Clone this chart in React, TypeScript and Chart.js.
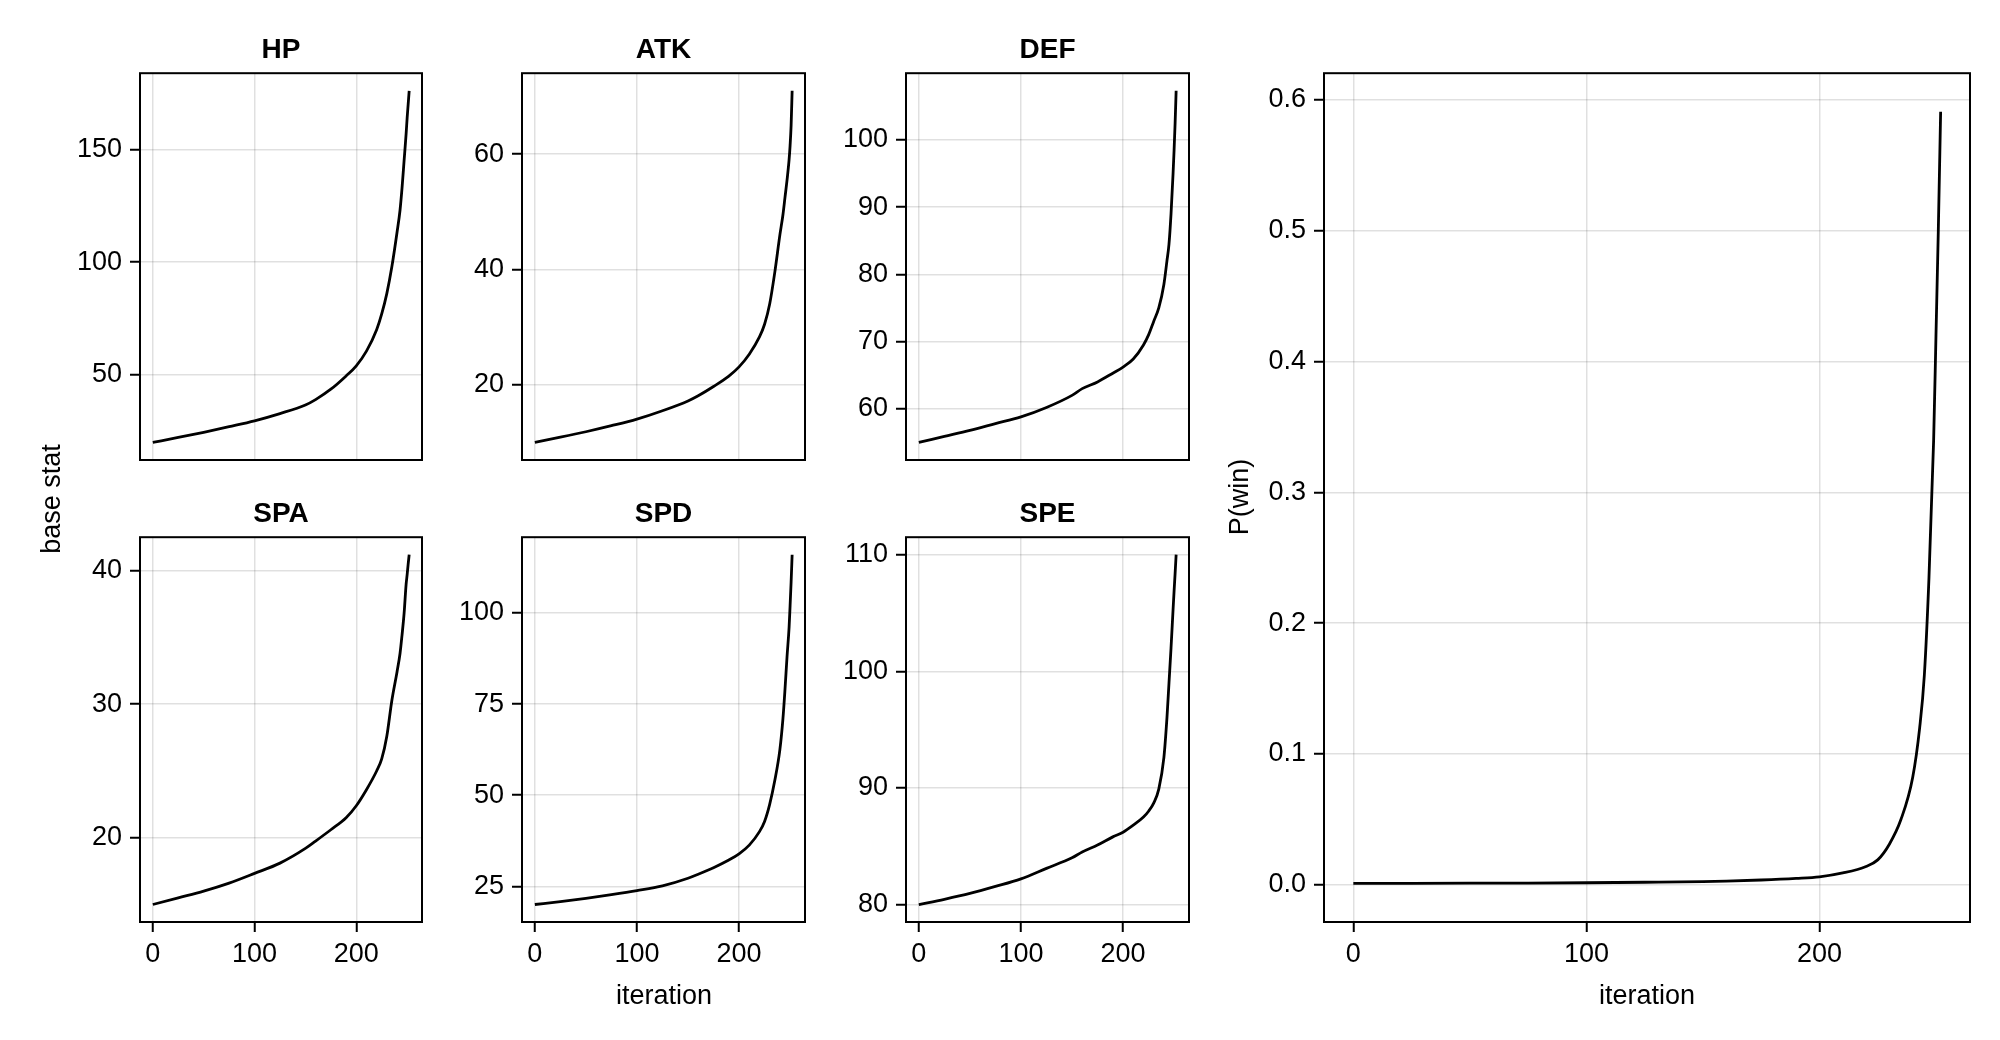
import React, { useRef, useEffect } from 'react';
import { Chart, registerables } from 'chart.js';

Chart.register(...registerables);

const iterations = [0, 25, 50, 75, 100, 125, 150, 160, 175, 190, 200, 210, 220, 225, 230, 235, 240, 243, 245, 247, 249, 250, 251, 252];

const hp = [20, 22.2, 24.5, 27, 29.6, 32.8, 36.6, 39, 43.6, 49.5, 54, 60.5, 70, 77, 86, 98, 113, 123, 133, 145, 157, 164, 170, 176];
const atk = [10, 10.9, 11.85, 12.9, 14.05, 15.5, 17.2, 18.1, 19.7, 21.5, 23.1, 25.3, 28.3, 30.5, 34, 39.5, 46, 49.5, 52.5, 55.5, 59, 61.5, 65, 71];
const def = [55, 55.9, 56.8, 57.8, 58.8, 60.2, 62, 63, 64, 65.3, 66.2, 67.4, 69.5, 71, 73, 75, 78.5, 82, 84.5, 89, 95, 98.5, 102.5, 107.3];
const spa = [15, 15.5, 16, 16.6, 17.33, 18.1, 19.2, 19.75, 20.6, 21.5, 22.4, 23.6, 25, 25.9, 27.6, 30.3, 32.4, 33.8, 35.2, 36.8, 39, 39.7, 40.5, 41.2];
const spd = [20, 20.8, 21.7, 22.7, 23.8, 25.1, 27.2, 28.3, 30.1, 32.2, 33.9, 36.3, 40, 42.8, 47.5, 54, 62.5, 71, 79, 88, 96, 102, 108.5, 116];
const spe = [80, 80.45, 80.95, 81.55, 82.2, 83.1, 84, 84.5, 85.1, 85.8, 86.2, 86.8, 87.5, 88, 88.7, 89.9, 92.6, 96, 99, 102, 105.3, 106.9, 108.4, 110];
const pWin = [0.001, 0.0011, 0.0012, 0.0013, 0.0015, 0.0019, 0.0024, 0.0028, 0.0036, 0.0048, 0.006, 0.009, 0.014, 0.019, 0.031, 0.05, 0.082, 0.12, 0.16, 0.235, 0.34, 0.42, 0.5, 0.591];

// tick labels
const iterTicks = [0, 100, 200];
const hpTicks = [50, 100, 150];
const atkTicks = [20, 40, 60];
const defTicks = [60, 70, 80, 90, 100];
const spaTicks = [20, 30, 40];
const spdTicks = [25, 50, 75, 100];
const speTicks = [80, 90, 100, 110];
const winTicks = [0, 0.1, 0.2, 0.3, 0.4, 0.5, 0.6];

const FONT = '"Liberation Sans", Arial, Helvetica, sans-serif';
const TICK_SIZE = 27;

// canvas margins around each plot frame
const ML = 110;
const MT = 24;
const MR = 10;
const MB = 60;

type Box = { left: number; top: number; width: number; height: number };

// makie-like autolimits: 5% padding on each side
function limits(values: number[]) {
  const lo = Math.min(...values);
  const hi = Math.max(...values);
  const d = (hi - lo) * 0.05;
  return [lo - d, hi + d];
}

const framePlugin = {
  id: 'frame',
  afterDraw(chart: any) {
    const { ctx, chartArea: a } = chart;
    ctx.save();
    ctx.strokeStyle = '#000';
    ctx.lineWidth = 2;
    ctx.strokeRect(a.left, a.top, a.right - a.left, a.bottom - a.top);
    ctx.restore();
  },
};

type PanelProps = {
  box: Box;
  ys: number[];
  yTicks: number[];
  showX: boolean;
  decimals?: number;
};

const Panel: React.FC<PanelProps> = ({ box, ys, yTicks, showX, decimals = 0 }) => {
  const canvasRef = useRef<HTMLCanvasElement>(null);
  const w = box.width + ML + MR;
  const h = box.height + MT + MB;

  useEffect(() => {
    if (!canvasRef.current) return;
    const [xmin, xmax] = limits(iterations);
    const [ymin, ymax] = limits(ys);
    const grid = {
      color: 'rgba(0,0,0,0.12)',
      lineWidth: 1.5,
      tickColor: '#000',
      tickWidth: 2,
      tickLength: 10,
    };
    const chart = new Chart(canvasRef.current, {
      type: 'line',
      data: {
        datasets: [
          {
            data: iterations.map((x, i) => ({ x, y: ys[i] })),
            borderColor: '#000',
            borderWidth: 2.8,
            pointRadius: 0,
            fill: false,
            cubicInterpolationMode: 'monotone',
          },
        ],
      },
      options: {
        responsive: false,
        animation: false,
        devicePixelRatio: 1,
        layout: { padding: { left: 0, top: MT, right: MR, bottom: 0 } },
        plugins: { legend: { display: false }, tooltip: { enabled: false } },
        scales: {
          x: {
            type: 'linear',
            min: xmin,
            max: xmax,
            afterBuildTicks: (s: any) => {
              s.ticks = iterTicks.map((v) => ({ value: v }));
            },
            afterFit: (s: any) => {
              s.height = MB;
            },
            grid: { ...grid, drawTicks: showX },
            border: { display: false },
            ticks: {
              display: showX,
              autoSkip: false,
              maxRotation: 0,
              padding: 6,
              color: '#000',
              font: { family: FONT, size: TICK_SIZE },
              callback: (v: any) => String(v),
            },
          },
          y: {
            type: 'linear',
            min: ymin,
            max: ymax,
            afterBuildTicks: (s: any) => {
              s.ticks = yTicks.map((v) => ({ value: v }));
            },
            afterFit: (s: any) => {
              s.width = ML;
            },
            grid,
            border: { display: false },
            ticks: {
              autoSkip: false,
              padding: 8,
              color: '#000',
              font: { family: FONT, size: TICK_SIZE },
              callback: (v: any) => Number(v).toFixed(decimals),
            },
          },
        },
      },
      plugins: [framePlugin],
    });
    return () => {
      chart.destroy();
    };
  }, []);

  return (
    <canvas
      ref={canvasRef}
      width={w}
      height={h}
      style={{ position: 'absolute', left: box.left - ML, top: box.top - MT, width: w, height: h }}
    />
  );
};

const Title: React.FC<{ box: Box; text: string }> = ({ box, text }) => (
  <div
    style={{
      position: 'absolute',
      left: box.left,
      width: box.width,
      top: box.top - 40,
      lineHeight: '32px',
      fontSize: 28,
      fontWeight: 'bold',
      textAlign: 'center',
    }}
  >
    {text}
  </div>
);

const Label: React.FC<{ x: number; y: number; text: string; rotate?: boolean }> = ({ x, y, text, rotate }) => (
  <div
    style={{
      position: 'absolute',
      left: x - 150,
      top: y - 16,
      width: 300,
      lineHeight: '32px',
      fontSize: 27,
      textAlign: 'center',
      transform: rotate ? 'rotate(-90deg)' : undefined,
    }}
  >
    {text}
  </div>
);

const colLeft = [140, 522, 906];
const colWidth = [282, 283, 283];
const rowTop = [73, 537];
const rowHeight = [387, 385];

const cell = (r: number, c: number): Box => ({
  left: colLeft[c],
  top: rowTop[r],
  width: colWidth[c],
  height: rowHeight[r],
});

const winBox: Box = { left: 1324, top: 73, width: 646, height: 849 };

const App: React.FC = () => {
  const panels = [
    { title: 'HP', ys: hp, ticks: hpTicks, r: 0, c: 0 },
    { title: 'ATK', ys: atk, ticks: atkTicks, r: 0, c: 1 },
    { title: 'DEF', ys: def, ticks: defTicks, r: 0, c: 2 },
    { title: 'SPA', ys: spa, ticks: spaTicks, r: 1, c: 0 },
    { title: 'SPD', ys: spd, ticks: spdTicks, r: 1, c: 1 },
    { title: 'SPE', ys: spe, ticks: speTicks, r: 1, c: 2 },
  ];
  return (
    <div
      style={{
        position: 'absolute',
        left: 0,
        top: 0,
        width: 2000,
        height: 1040,
        background: '#fff',
        fontFamily: FONT,
        color: '#000',
        overflow: 'hidden',
      }}
    >
      {panels.map((p) => (
        <React.Fragment key={p.title}>
          <Panel box={cell(p.r, p.c)} ys={p.ys} yTicks={p.ticks} showX={p.r === 1} />
          <Title box={cell(p.r, p.c)} text={p.title} />
        </React.Fragment>
      ))}
      <Panel box={winBox} ys={pWin} yTicks={winTicks} showX={true} decimals={1} />
      <Label x={51} y={499} text="base stat" rotate />
      <Label x={664} y={995} text="iteration" />
      <Label x={1239} y={497} text="P(win)" rotate />
      <Label x={1647} y={995} text="iteration" />
    </div>
  );
};

export default App;
